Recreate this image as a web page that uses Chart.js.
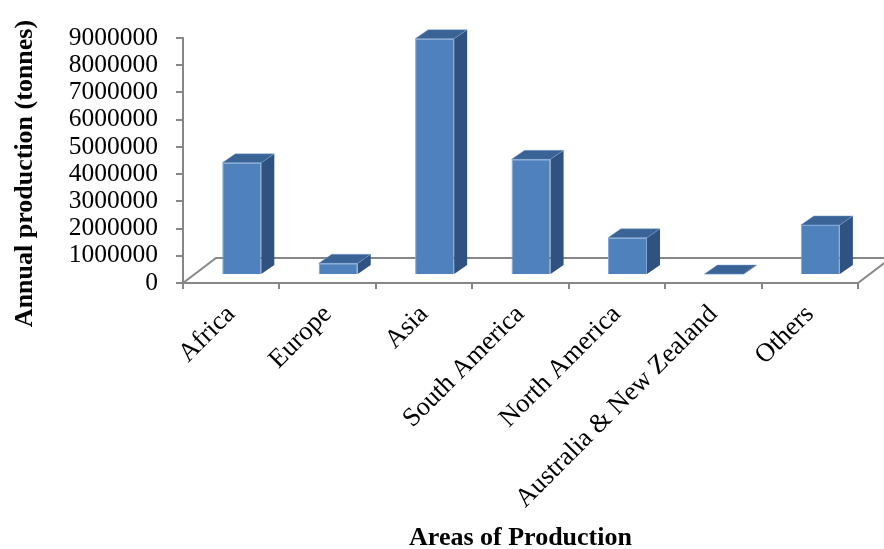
<!DOCTYPE html>
<html>
<head>
<meta charset="utf-8">
<script src="https://cdn.jsdelivr.net/npm/chart.js@4.4.1/dist/chart.umd.min.js"></script>
<style>
  html, body { margin: 0; padding: 0; background: #ffffff; }
  canvas { display: block; }
</style>
</head>
<body>
<canvas id="chart" width="884" height="549"></canvas>
<script>
// Annual production by area (tonnes)
const areas = ['Africa', 'Europe', 'Asia', 'South America', 'North America', 'Australia & New Zealand', 'Others'];
const production = [4120000, 430000, 8680000, 4250000, 1370000, 15000, 1840000];
const yTickValues = [0, 1000000, 2000000, 3000000, 4000000, 5000000, 6000000, 7000000, 8000000, 9000000];

const SERIF = "'Liberation Serif', 'Times New Roman', serif";
const AXIS_GREY = '#878787';

// Pseudo-3D projection: the floor recedes by FLOOR_DEPTH, the bar row sits
// BAR_FRONT of the way into it and each bar is BAR_DEPTH deep.
const FLOOR_DEPTH = { dx: 33, dy: -25 };
const BAR_FRONT = 0.32;
const BAR_DEPTH = { dx: 13, dy: -9 };
const FACE = { front: '#4f81bd', top: '#3a6496', side: '#2f5281', edge: '#7fa5d6' };

const depth3d = {
  id: 'depth3d',
  beforeDatasetsDraw(chart) {
    const { ctx, chartArea: a } = chart;
    // floor outline (front edge is the category axis line)
    ctx.save();
    ctx.strokeStyle = AXIS_GREY;
    ctx.lineWidth = 2;
    ctx.beginPath();
    ctx.moveTo(a.left, a.bottom);
    ctx.lineTo(a.left + FLOOR_DEPTH.dx, a.bottom + FLOOR_DEPTH.dy);
    ctx.lineTo(a.right + FLOOR_DEPTH.dx, a.bottom + FLOOR_DEPTH.dy);
    ctx.lineTo(a.right, a.bottom);
    ctx.stroke();
    ctx.restore();
    // move the bar row back into its depth plane
    ctx.save();
    ctx.translate(FLOOR_DEPTH.dx * BAR_FRONT, FLOOR_DEPTH.dy * BAR_FRONT);
  },
  afterDatasetsDraw(chart) {
    const { ctx } = chart;
    const meta = chart.getDatasetMeta(0);
    meta.data.forEach(bar => {
      const p = bar.getProps(['x', 'y', 'base', 'width'], true);
      const l = p.x - p.width / 2, r = p.x + p.width / 2;
      const t = Math.min(p.y, p.base), b = Math.max(p.y, p.base);
      const dx = BAR_DEPTH.dx, dy = BAR_DEPTH.dy;
      // side face
      ctx.beginPath();
      ctx.moveTo(r, t);
      ctx.lineTo(r + dx, t + dy);
      ctx.lineTo(r + dx, b + dy);
      ctx.lineTo(r, b);
      ctx.closePath();
      ctx.fillStyle = FACE.side;
      ctx.fill();
      // top face
      ctx.beginPath();
      ctx.moveTo(l, t);
      ctx.lineTo(l + dx, t + dy);
      ctx.lineTo(r + dx, t + dy);
      ctx.lineTo(r, t);
      ctx.closePath();
      ctx.fillStyle = FACE.top;
      ctx.fill();
      ctx.strokeStyle = 'rgba(127,165,214,0.6)';
      ctx.lineWidth = 0.8;
      ctx.stroke();
    });
    ctx.restore();
  }
};

new Chart(document.getElementById('chart'), {
  type: 'bar',
  data: {
    labels: areas,
    datasets: [{
      data: production,
      backgroundColor: FACE.front,
      borderColor: FACE.edge,
      borderWidth: 1,
      categoryPercentage: 1,
      barPercentage: 0.405,
      clip: false
    }]
  },
  options: {
    responsive: false,
    animation: false,
    events: [],
    layout: { padding: { top: 38, right: 26, bottom: 0, left: 0 } },
    plugins: { legend: { display: false }, tooltip: { enabled: false } },
    scales: {
      x: {
        type: 'category',
        offset: true,
        grid: {
          offset: true,
          drawOnChartArea: false,
          drawTicks: true,
          tickLength: 6,
          color: AXIS_GREY,
          lineWidth: 2
        },
        border: { display: true, color: AXIS_GREY, width: 2 },
        ticks: {
          autoSkip: false,
          minRotation: 45,
          maxRotation: 45,
          padding: 10,
          color: '#000000',
          font: { family: SERIF, size: 26.5 }
        },
        title: {
          display: true,
          text: 'Areas of Production',
          color: '#000000',
          padding: 0,
          font: { family: SERIF, size: 26, weight: 'bold', lineHeight: 0.8 }
        },
        afterFit(scale) { scale.height = 266; }
      },
      y: {
        min: 0,
        max: 9000000,
        afterBuildTicks(scale) { scale.ticks = yTickValues.map(v => ({ value: v })); },
        grid: {
          drawOnChartArea: false,
          drawTicks: true,
          tickLength: 7,
          color: AXIS_GREY,
          lineWidth: 2
        },
        border: { display: true, color: AXIS_GREY, width: 2 },
        ticks: {
          autoSkip: false,
          padding: 18,
          color: '#000000',
          font: { family: SERIF, size: 25.5 },
          callback: v => String(v)
        },
        title: {
          display: true,
          text: 'Annual production (tonnes)    ',
          color: '#000000',
          padding: { top: 10, bottom: 0 },
          font: { family: SERIF, size: 26, weight: 'bold', lineHeight: 1.2 }
        },
        afterFit(scale) { scale.width = 183; }
      }
    }
  },
  plugins: [depth3d]
});
</script>
</body>
</html>
